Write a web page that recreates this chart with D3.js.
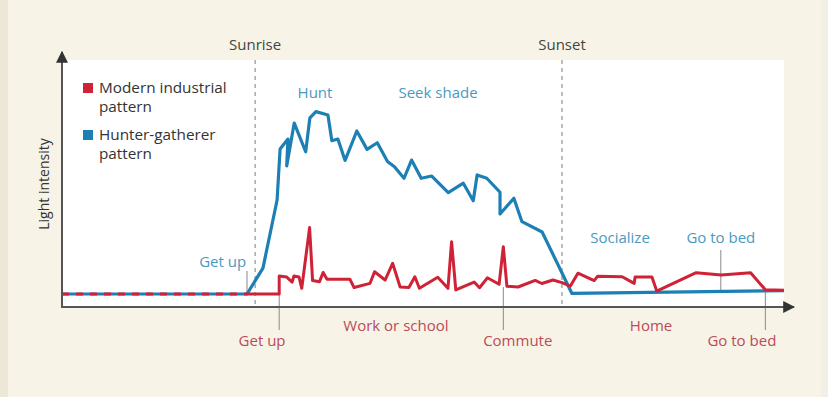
<!DOCTYPE html>
<html>
<head>
<meta charset="utf-8">
<script src="https://cdn.jsdelivr.net/npm/d3@7"></script>
<style>
  body { margin: 0; background: #f7f4e7; }
  svg { display: block; font-family: "Open Sans", sans-serif; }
</style>
</head>
<body>
<div id="chart"></div>
<script>
const width = 828
const height = 397

// hours of the day, light intensity (0-100)
const blueHours = [0, 6.15, 6.68, 7.15, 7.25, 7.51, 7.47, 7.72, 8.10, 8.24, 8.44, 8.84, 8.97, 9.17, 9.41, 9.80, 10.14, 10.48, 10.82, 11.05, 11.37, 11.62, 11.94, 12.29, 12.84, 13.34, 13.67, 13.80, 14.12, 14.56, 14.56, 15.02, 15.29, 15.96, 16.95, 24]
const blueValues = [0, 0, 14.1, 51.1, 78.8, 84.2, 69.6, 92.9, 77.3, 95.7, 99.1, 97.3, 83.3, 84.2, 72.6, 88.6, 78.6, 82.2, 72.0, 69.2, 62.9, 72.8, 62.9, 64.1, 55.1, 60.2, 50.7, 64.7, 62.9, 55.3, 43.5, 52.0, 39.3, 33.7, 0.3, 1.8]

const redHours = [0, 6.15, 7.22, 7.22, 7.47, 7.65, 7.71, 7.88, 7.97, 8.23, 8.33, 8.56, 8.68, 8.81, 9.57, 9.71, 10.24, 10.39, 10.74, 10.99, 11.24, 11.53, 11.73, 11.88, 12.49, 12.83, 12.95, 13.09, 13.70, 13.88, 14.14, 14.53, 14.67, 14.79, 15.16, 15.73, 15.95, 16.32, 16.62, 16.90, 17.15, 17.69, 17.80, 18.62, 19.02, 19.05, 19.61, 19.77, 21.08, 21.91, 22.89, 23.38, 24]
const redValues = [0, 0, 0, 9.8, 9.2, 6.5, 9.8, 9.2, 3.1, 36.1, 7.3, 6.7, 11.7, 8.0, 8.0, 3.5, 5.8, 12.1, 7.6, 16.7, 3.8, 3.5, 9.4, 3.1, 9.1, 3.1, 28.4, 2.2, 6.5, 3.4, 8.8, 5.3, 25.7, 4.2, 3.8, 7.4, 5.7, 7.6, 6.2, 4.3, 11.3, 7.3, 9.6, 9.4, 5.8, 9.2, 9.2, 1.6, 11.6, 10.3, 11.6, 2.3, 2.0]

const sunHours = [6.42, 16.62]
const sunLabels = ["Sunrise", "Sunset"]

const blueNotes = ["Hunt", "Seek shade", "Socialize", "Go to bed", "Get up"]
const blueNoteHours = [8.41, 12.5, 18.55, 21.9, 6.12]
const redNotes = ["Get up", "Work or school", "Commute", "Home", "Go to bed"]
const redNoteHours = [6.65, 11.1, 15.15, 19.58, 22.6]

const blueColor = "#1c80b4"
const redColor = "#cf2237"

const svg = d3.select("#chart")
  .append("svg")
    .attr("width", width)
    .attr("height", height)

svg.append("rect").attr("width", width).attr("height", height).attr("fill", "#f7f4e7")
svg.append("rect").attr("width", 8).attr("height", height).attr("fill", "#ede7d8")
svg.append("rect").attr("x", 821).attr("width", 7).attr("height", height).attr("fill", "#f1efe6")

const x = d3.scaleLinear().domain([0, 24]).range([62, 784])
const y = d3.scaleLinear().domain([0, 100]).range([294, 110])
const axisY = 307

// white panel
svg.append("rect")
  .attr("x", 62).attr("y", 60)
  .attr("width", 722).attr("height", axisY - 60)
  .attr("fill", "#ffffff")

// sunrise / sunset
sunHours.forEach((h, i) => {
  svg.append("line")
    .attr("x1", x(h)).attr("x2", x(h))
    .attr("y1", 60).attr("y2", axisY)
    .attr("stroke", "#9a9a9a")
    .attr("stroke-width", 1.3)
    .attr("stroke-dasharray", "4,4")
  svg.append("text")
    .attr("x", x(h)).attr("y", 50)
    .attr("text-anchor", "middle")
    .attr("font-size", 15)
    .attr("fill", "#444")
    .text(sunLabels[i])
})

// tick lines for annotations
const tickLines = [
  [x(6.15), 271, 294],
  [x(7.22), 294, 330],
  [x(14.67), 287, 330],
  [x(23.38), 290, 330],
  [x(21.9), 250, 292]
]
tickLines.forEach(t => {
  svg.append("line")
    .attr("x1", t[0]).attr("x2", t[0])
    .attr("y1", t[1]).attr("y2", t[2])
    .attr("stroke", "#8a8a8a")
    .attr("stroke-width", 1)
})

const line = d3.line()
  .x(d => x(d[0]))
  .y(d => y(d[1]))

const blueData = d3.zip(blueHours, blueValues)
const redData = d3.zip(redHours, redValues)

svg.append("path")
  .attr("d", line(blueData))
  .attr("fill", "none")
  .attr("stroke", blueColor)
  .attr("stroke-width", 3.2)
  .attr("stroke-linejoin", "round")

svg.append("path")
  .attr("d", line(redData.filter(d => d[0] >= 6.15)))
  .attr("fill", "none")
  .attr("stroke", redColor)
  .attr("stroke-width", 3)
  .attr("stroke-linejoin", "round")

// overlap before sunrise: red dashes over blue
svg.append("path")
  .attr("d", line(redData.filter(d => d[0] <= 6.15)))
  .attr("fill", "none")
  .attr("stroke", redColor)
  .attr("stroke-width", 3)
  .attr("stroke-dasharray", "7,7")

// axes
svg.append("defs").append("marker")
  .attr("id", "arrow")
  .attr("viewBox", "0 0 10 10")
  .attr("refX", 9).attr("refY", 5)
  .attr("markerWidth", 6).attr("markerHeight", 6)
  .attr("orient", "auto")
  .append("path")
    .attr("d", "M0,0 L10,5 L0,10 z")
    .attr("fill", "#333")

svg.append("line")
  .attr("x1", 62).attr("x2", 62)
  .attr("y1", axisY + 1).attr("y2", 52)
  .attr("stroke", "#555").attr("stroke-width", 2)
  .attr("marker-end", "url(#arrow)")

svg.append("line")
  .attr("x1", 61).attr("x2", 794)
  .attr("y1", axisY).attr("y2", axisY)
  .attr("stroke", "#555").attr("stroke-width", 2)
  .attr("marker-end", "url(#arrow)")

svg.append("text")
  .attr("transform", "translate(49,184) rotate(-90)")
  .attr("text-anchor", "middle")
  .attr("font-size", 14)
  .attr("fill", "#333")
  .text("Light intensity")

// blue annotations
const blueY = [98, 98, 243, 243, 267]
blueNotes.forEach((t, i) => {
  svg.append("text")
    .attr("x", x(blueNoteHours[i])).attr("y", blueY[i])
    .attr("text-anchor", i === 4 ? "end" : "middle")
    .attr("font-size", 15)
    .attr("fill", "#4a9ac0")
    .text(t)
})

// red annotations
const redY = [346, 331, 346, 331, 346]
redNotes.forEach((t, i) => {
  svg.append("text")
    .attr("x", x(redNoteHours[i])).attr("y", redY[i])
    .attr("text-anchor", "middle")
    .attr("font-size", 15)
    .attr("fill", "#bb4a5a")
    .text(t)
})

// legend
const legend = svg.append("g")
legend.append("rect").attr("x", 83).attr("y", 83).attr("width", 10).attr("height", 10).attr("fill", redColor)
legend.append("rect").attr("x", 83).attr("y", 130).attr("width", 10).attr("height", 10).attr("fill", blueColor)
const legendLines = [["Modern industrial", 93], ["pattern", 112], ["Hunter-gatherer", 140], ["pattern", 159]]
legendLines.forEach(l => {
  legend.append("text")
    .attr("x", 99).attr("y", l[1])
    .attr("font-size", 15.3)
    .attr("fill", "#333")
    .text(l[0])
})
</script>
</body>
</html>
